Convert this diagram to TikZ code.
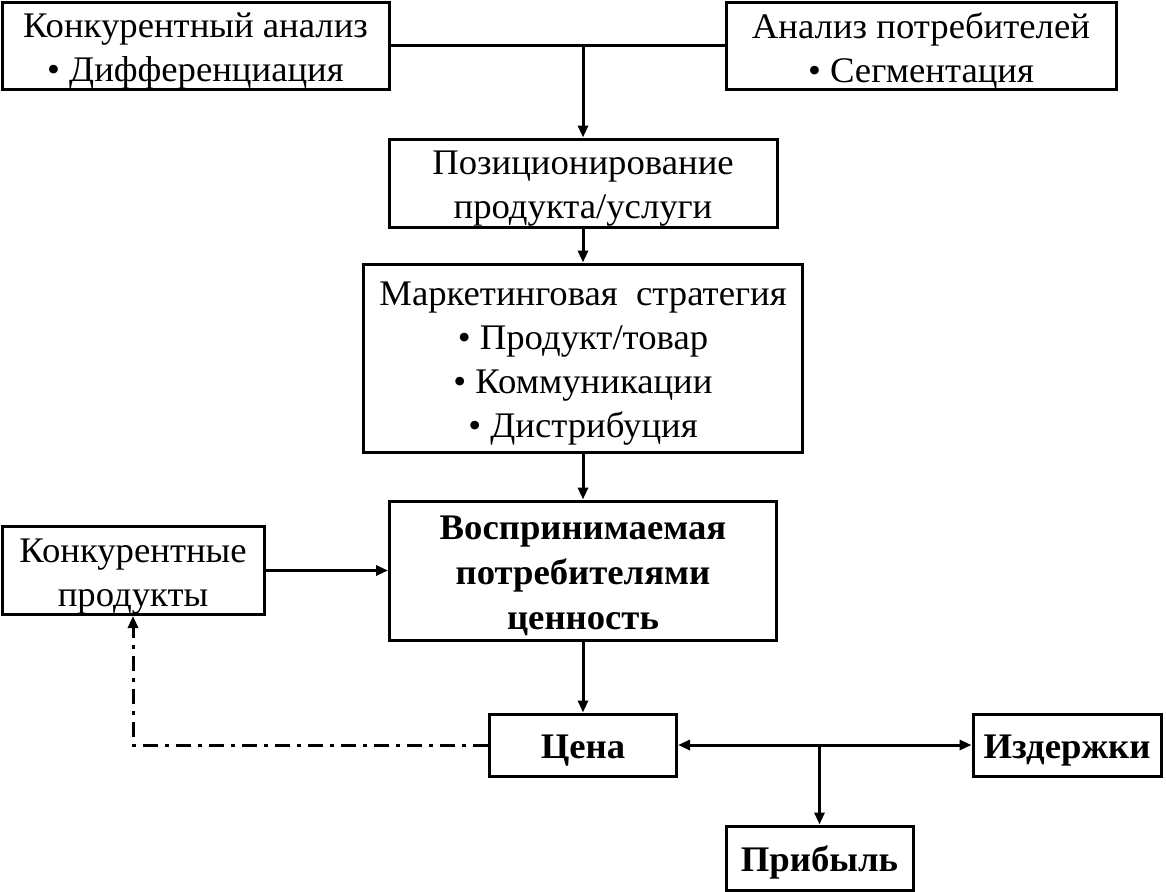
\documentclass[tikz,border=0pt]{standalone}
\usepackage{fontspec}
\setmainfont{Liberation Serif}[FakeStretch=1.02]
\usepackage{tikz}
\usetikzlibrary{arrows.meta, positioning, calc}

\newcommand{\firststrut}{\rule{0pt}{35pt}}

\tikzset{
  blockbox/.style={draw, line width=3pt, align=center, inner sep=0pt,
    font=\fontsize{36}{44}\selectfont},
  boldbox/.style={blockbox, font=\fontsize{36}{45}\selectfont\bfseries},
  flowline/.style={line width=3pt, -{Triangle[length=12pt,width=10pt]}},
  plainline/.style={line width=3pt},
  feedback/.style={line width=3pt, dash pattern=on 15pt off 7pt on 4pt off 7pt,
    -{Triangle[length=12pt,width=10pt]}}
}

\begin{document}
\begin{tikzpicture}[x=1pt, y=-1pt]
  \useasboundingbox (0,0) rectangle (1166,891);

  % top row
  \node[blockbox, minimum width=387pt, minimum height=86pt] (konk) at (195.5,46)
    {\firststrut Конкурентный анализ\\ • Дифференциация};
  \node[blockbox, minimum width=390pt, minimum height=86pt] (potr) at (921,46)
    {\firststrut Анализ потребителей\\ • Сегментация};

  % middle column
  \node[blockbox, minimum width=388pt, minimum height=88pt] (pozic) at (583,183)
    {\firststrut Позиционирование\\ продукта/услуги};
  \node[blockbox, minimum width=439pt, minimum height=188pt] (strat) at (583,358)
    {\firststrut Маркетинговая\ \ стратегия\\ • Продукт/товар\\ • Коммуникации\\ • Дистрибуция};
  \node[boldbox, minimum width=387pt, minimum height=139pt] (cenn) at (583,570.5)
    {\firststrut Воспринимаемая\\ потребителями\\ ценность};
  \node[blockbox, minimum width=262pt, minimum height=88pt] (konkprod) at (133,570.5)
    {\firststrut Конкурентные\\ продукты};

  % bottom row
  \node[boldbox, minimum width=187pt, minimum height=62pt] (cena) at (583,745) {\firststrut Цена};
  \node[boldbox, minimum width=188pt, minimum height=62pt] (izd) at (1067,745) {\firststrut Издержки};
  \node[boldbox, minimum width=187pt, minimum height=64pt] (prib) at (819.5,858) {\firststrut Прибыль};

  \coordinate (joinTop) at (pozic.north |- konk.east);
  \coordinate (joinCost) at (prib.north |- cena.east);
  \coordinate (turnFb) at (konkprod.south |- cena.west);

  % connectors
  \draw[plainline] (konk.east) -- (potr.west);
  \draw[flowline] (joinTop) -- (pozic.north);
  \draw[flowline] (pozic.south) -- (strat.north);
  \draw[flowline] (strat.south) -- (cenn.north);
  \draw[flowline] (konkprod.east) -- (cenn.west);
  \draw[flowline] (cenn.south) -- (cena.north);
  \draw[line width=3pt, {Triangle[length=12pt,width=10pt]}-{Triangle[length=12pt,width=10pt]}]
    (cena.east) -- (izd.west);
  \draw[flowline] (joinCost) -- (prib.north);
  \draw[feedback] (cena.west) -- (turnFb) -- (konkprod.south);
\end{tikzpicture}
\end{document}
